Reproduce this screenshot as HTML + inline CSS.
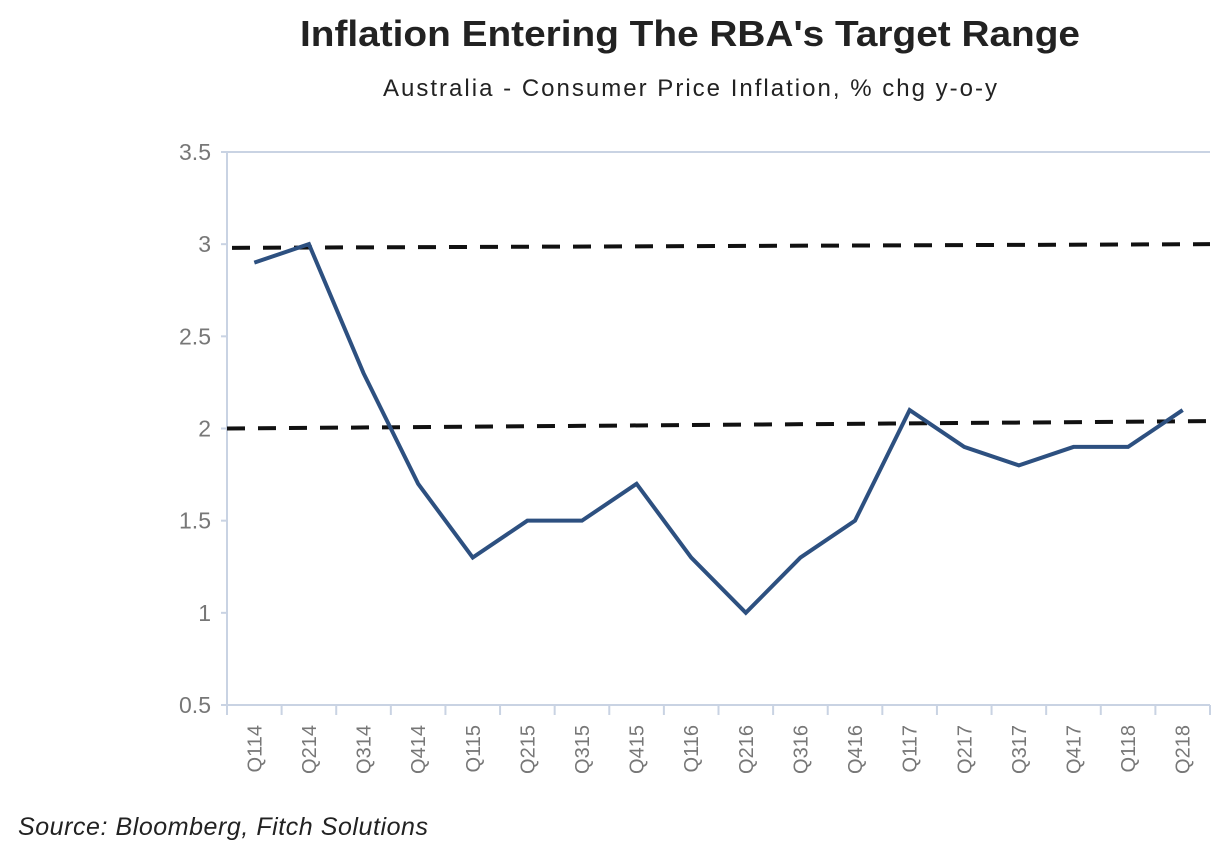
<!DOCTYPE html>
<html><head><meta charset="utf-8"><style>
body{margin:0;background:#fff;width:1232px;height:854px;overflow:hidden;font-family:"Liberation Sans",sans-serif}
</style></head><body>
<svg width="1232" height="854" id="svg">
<text x="300" y="46" textLength="780" lengthAdjust="spacingAndGlyphs" font-size="36" font-weight="bold" fill="#222">Inflation Entering The RBA's Target Range</text>
<text x="383" y="96" textLength="614" lengthAdjust="spacing" font-size="24" fill="#222">Australia - Consumer Price Inflation, % chg y-o-y</text>
<text x="18" y="835" textLength="410" lengthAdjust="spacing" font-size="25" font-style="italic" fill="#222">Source: Bloomberg, Fitch Solutions</text>
<g id="plot"></g>
</svg>
<script>
const categories=["Q114","Q214","Q314","Q414","Q115","Q215","Q315","Q415","Q116","Q216","Q316","Q416","Q117","Q217","Q317","Q417","Q118","Q218"];
const cpiValues=[2.9,3.0,2.3,1.7,1.3,1.5,1.5,1.7,1.3,1.0,1.3,1.5,2.1,1.9,1.8,1.9,1.9,2.1];
const yTicks=[0.5,1,1.5,2,2.5,3,3.5];
const upperBand=[2.98,3.0];
const lowerBand=[2.0,2.04];
const L=227,R=1210,T=152,B=705,yMin=0.5,yMax=3.5;
const step=(R-L)/categories.length;
const xs=i=>L+step*(i+0.5);
const ys=v=>B-(v-yMin)/(yMax-yMin)*(B-T);
const NS="http://www.w3.org/2000/svg";
const g=document.getElementById('plot');
function mk(t,a){const e=document.createElementNS(NS,t);for(const k in a)e.setAttribute(k,a[k]);g.appendChild(e);return e;}
let e;
e=mk('line',{x1:L,y1:T,x2:R,y2:T,stroke:'#c9d3e3','stroke-width':2});


e=mk('line',{x1:L,y1:T,x2:L,y2:B,stroke:'#c9d3e3','stroke-width':2});


e=mk('line',{x1:L,y1:B,x2:R,y2:B,stroke:'#c9d3e3','stroke-width':2});


yTicks.forEach(v=>{
 e=mk('line',{x1:L-6,y1:ys(v),x2:L,y2:ys(v),stroke:'#c9d3e3','stroke-width':2});
 
 
 e=mk('text',{x:L-16,y:ys(v)+8,'text-anchor':'end','font-size':23,fill:'#777'});
 e.textContent=String(v);
 
 
});
for(let i=0;i<=categories.length;i++){
 e=mk('line',{x1:L+step*i,y1:B,x2:L+step*i,y2:B+10,stroke:'#c9d3e3','stroke-width':2});
 
 
}
categories.forEach((c,i)=>{
 const x=xs(i)+7,y=B+20;
 e=mk('text',{x:x,y:y,'text-anchor':'end','font-size':20,fill:'#777',transform:`rotate(-90 ${x} ${y})`});
 e.textContent=c;
 
 
});
e=mk('line',{x1:232,y1:ys(upperBand[0]),x2:R,y2:ys(upperBand[1]),stroke:'#111','stroke-width':4,'stroke-dasharray':'18 13'});


e=mk('line',{x1:L,y1:ys(lowerBand[0]),x2:R,y2:ys(lowerBand[1]),stroke:'#111','stroke-width':4,'stroke-dasharray':'18 13'});


e=mk('polyline',{points:cpiValues.map((v,i)=>xs(i)+','+ys(v)).join(' '),fill:'none',stroke:'#2d5080','stroke-width':4,'stroke-linejoin':'miter'});


</script>
</body></html>
